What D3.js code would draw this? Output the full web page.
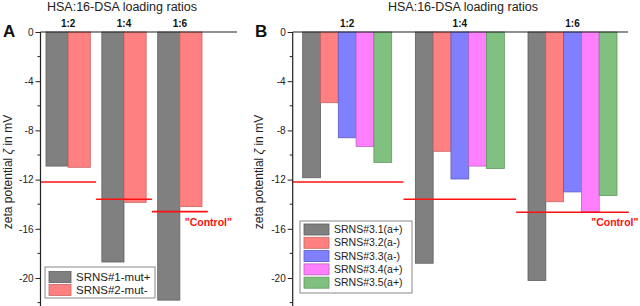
<!DOCTYPE html>
<html>
<head>
<meta charset="utf-8">
<script src="https://cdn.jsdelivr.net/npm/d3@7"></script>
<style>
  body { margin: 0; background: #fff; }
  svg { display: block; font-family: Arial, "Liberation Sans", sans-serif; }
</style>
</head>
<body>
<script>
// values (zeta potential in mV)
const ratios = ["1:2", "1:4", "1:6"];
const yTicks = [0, -4, -8, -12, -16, -20];
const minorTicks = [-2, -6, -10, -14, -18, -22];

const seriesA = ["SRNS#1-mut+", "SRNS#2-mut-"];
const valuesA = [
  [-10.9, -18.7, -21.8],
  [-11.0, -13.85, -14.2]
];
const controlA = [-12.2, -13.6, -14.6];

const seriesB = ["SRNS#3.1(a+)", "SRNS#3.2(a-)", "SRNS#3.3(a-)", "SRNS#3.4(a+)", "SRNS#3.5(a+)"];
const valuesB = [
  [-11.85, -18.8, -20.2],
  [-5.75, -9.7, -13.8],
  [-8.6, -11.95, -13.0],
  [-9.3, -10.9, -14.6],
  [-10.6, -11.1, -13.3]
];
const controlB = [-12.2, -13.6, -14.65];

const fills = ["#808080", "#ff8080", "#8080ff", "#ff80ff", "#80c080"];
const strokes = ["#5e5e5e", "#c86464", "#5c5cc0", "#c060c0", "#5e9a5e"];

const svg = d3.select("body").append("svg")
  .attr("width", 640)
  .attr("height", 306);

const y = d3.scaleLinear().domain([0, -22.5]).range([32, 308.75]);

function drawPanel(p) {
  const g = svg.append("g");
  const x = d3.scaleBand().domain(ratios).range([p.x0, p.x1]).paddingInner(p.pad).paddingOuter(0);
  const xs = d3.scaleBand().domain(p.series).range([0, x.bandwidth()]);
  const gap = x.step() - x.bandwidth();

  // bars
  p.series.forEach((s, i) => {
    g.append("g").selectAll("rect")
      .data(p.values[i])
      .join("rect")
      .attr("x", (d, j) => x(ratios[j]) + xs(s))
      .attr("y", y(0))
      .attr("width", xs.bandwidth())
      .attr("height", d => y(d) - y(0))
      .attr("fill", fills[i])
      .attr("stroke", strokes[i])
      .attr("stroke-width", 0.8);
  });

  // control lines
  g.append("g").selectAll("line")
    .data(p.control)
    .join("line")
    .attr("x1", (d, j) => j === 0 ? p.axisX : x(ratios[j]) - gap / 2)
    .attr("x2", (d, j) => x(ratios[j]) + x.bandwidth() + gap / 2)
    .attr("y1", d => y(d))
    .attr("y2", d => y(d))
    .attr("stroke", "#ff1010")
    .attr("stroke-width", 1.6);

  g.append("text")
    .attr("x", x("1:6") + x.bandwidth() * p.ctrlOff)
    .attr("y", 225.5)
    .attr("fill", "#ff1010")
    .attr("font-weight", "bold")
    .attr("font-size", 10.5)
    .text("\"Control\"");

  // y axis
  const yAxis = g.append("g").attr("transform", `translate(${p.axisX},0)`)
    .call(d3.axisLeft(y).tickValues(yTicks).tickSize(5).tickPadding(2).tickFormat(d3.format("d")));
  yAxis.select(".domain").attr("d", `M0,${y(0)}V306`).attr("stroke", "#222").attr("stroke-width", 1.2);
  yAxis.selectAll(".tick line").attr("stroke", "#222");
  yAxis.selectAll(".tick text")
    .attr("font-size", 10).attr("fill", "#222").attr("font-family", "Arial, 'Liberation Sans', sans-serif")
    .text(d => d === 0 ? "0" : "-" + Math.abs(d));
  yAxis.append("g").selectAll("line")
    .data(minorTicks)
    .join("line")
    .attr("x1", -3).attr("x2", 0)
    .attr("y1", d => y(d)).attr("y2", d => y(d))
    .attr("stroke", "#222");

  // top axis line
  g.append("line")
    .attr("x1", p.axisX).attr("x2", p.topEnd)
    .attr("y1", y(0)).attr("y2", y(0))
    .attr("stroke", "#222").attr("stroke-width", 1.2);

  // group labels
  g.append("g").selectAll("text")
    .data(ratios)
    .join("text")
    .attr("x", d => x(d) + x.bandwidth() / 2)
    .attr("y", 26.5)
    .attr("text-anchor", "middle")
    .attr("font-size", 10)
    .attr("font-weight", "bold")
    .attr("fill", "#111")
    .text(d => d);

  g.append("text")
    .attr("x", p.titleX)
    .attr("y", 11)
    .attr("text-anchor", "middle")
    .attr("font-size", 12.5)
    .attr("fill", "#222")
    .text("HSA:16-DSA loading ratios");

  g.append("text")
    .attr("x", p.letterX)
    .attr("y", 37)
    .attr("font-size", 17)
    .attr("font-weight", "bold")
    .attr("fill", "#111")
    .text(p.letter);

  const yl = g.append("text")
    .attr("transform", `translate(${p.ylabX},172) rotate(-90)`)
    .attr("text-anchor", "middle")
    .attr("font-size", 12)
    .attr("fill", "#222");
  yl.append("tspan").text("zeta potential ");
  yl.append("tspan").attr("font-style", "italic").text("ζ");
  yl.append("tspan").text(" in mV");

  // legend
  const lg = g.append("g");
  lg.append("rect")
    .attr("x", p.leg.x).attr("y", p.leg.y)
    .attr("width", p.leg.w).attr("height", p.leg.h)
    .attr("fill", "#fff").attr("stroke", "#888").attr("stroke-width", 1);
  const row = lg.selectAll("g.row")
    .data(p.series)
    .join("g")
    .attr("class", "row")
    .attr("transform", (d, i) => `translate(${p.leg.x + 4},${p.leg.y + p.leg.top + i * p.leg.step})`);
  row.append("rect")
    .attr("x", 0).attr("y", -5.5)
    .attr("width", p.leg.sw).attr("height", 11)
    .attr("fill", (d, i) => fills[i])
    .attr("stroke", (d, i) => strokes[i])
    .attr("stroke-width", 0.8);
  row.append("text")
    .attr("x", p.leg.sw + 5)
    .attr("y", 0)
    .attr("dy", "0.35em")
    .attr("font-size", p.leg.fs)
    .attr("fill", "#222")
    .text(d => d);
}

drawPanel({
  series: seriesA, values: valuesA, control: controlA,
  x0: 46, x1: 202, pad: 0.207, axisX: 40.5, topEnd: 237,
  titleX: 122, letterX: 3, letter: "A", ylabX: 12, ctrlOff: 0.61,
  leg: { x: 45, y: 267, w: 110, h: 31, top: 10, step: 13, sw: 22, fs: 11.5 }
});

drawPanel({
  series: seriesB, values: valuesB, control: controlB,
  x0: 302.7, x1: 617, pad: 0.21, axisX: 292.7, topEnd: 628,
  titleX: 463, letterX: 255, letter: "B", ylabX: 263, ctrlOff: 0.71,
  leg: { x: 300, y: 221, w: 112, h: 72, top: 8.5, step: 13.3, sw: 25, fs: 10.5 }
});
</script>
</body>
</html>
